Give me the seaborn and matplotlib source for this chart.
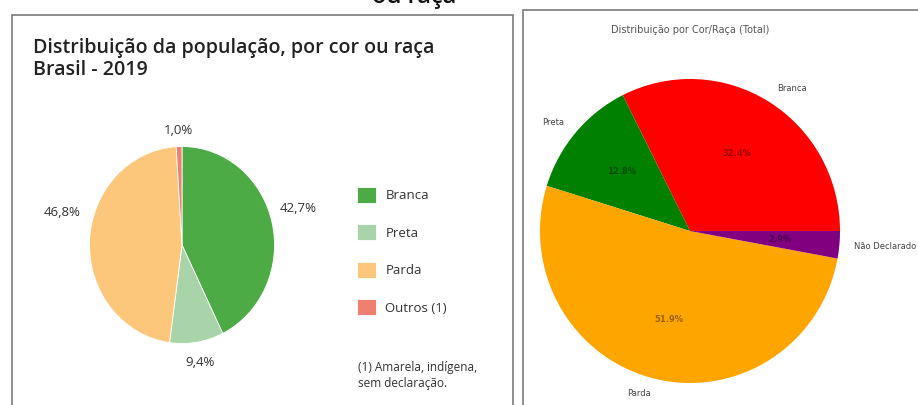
import matplotlib
matplotlib.use("Agg")
import seaborn as sns
from matplotlib import pyplot as plt
from matplotlib.patches import Rectangle

# left chart: IBGE 2019
cats_2019 = ["Branca", "Preta", "Parda", "Outros (1)"]
vals_2019 = [42.7, 9.4, 46.8, 1.0]
cols_2019 = ["#4dab46", "#a9d4a9", "#fcc77b", "#ef8070"]

# right chart: total by cor/raça
cats_total = ["Branca", "Preta", "Parda", "Não Declarado"]
vals_total = [32.4, 12.8, 51.9, 2.9]
cols_total = ["red", "green", "orange", "purple"]

sns.set_theme(style="white")
plt.rcParams["font.family"] = ["Open Sans", "DejaVu Sans"]

W, H = 918, 405
fig = plt.figure(figsize=(W / 100, H / 100), dpi=100)
fig.patch.set_facecolor("white")


def box(x0, y0, w, h):
    return [x0 / W, 1 - (y0 + h) / H, w / W, h / H]


def fx(x):
    return x / W


def fy(y):
    return 1 - y / H


# panel frames
fig.patches.append(Rectangle((fx(12), fy(420)), fx(501), 420 / H - 15 / H,
                             transform=fig.transFigure, fill=False,
                             edgecolor="#7a7a7a", lw=1.2))
fig.patches.append(Rectangle((fx(523), fy(420)), fx(410), 420 / H - 10 / H,
                             transform=fig.transFigure, fill=False,
                             edgecolor="#7a7a7a", lw=1.2))

# cut-off heading from page above
fig.text(fx(372), fy(3), "ou raça", fontsize=17, fontweight="semibold",
         color="#111111", va="baseline", ha="left")

# ---- left pie ----
ax1 = fig.add_axes(box(182 - 92.5, 245 - 98.5, 185, 197))
wedges, _ = ax1.pie(vals_2019, colors=cols_2019, startangle=90,
                    counterclock=False,
                    wedgeprops=dict(edgecolor="white", linewidth=0.6))
ax1.set_aspect("auto")
ax1.set_xlim(-1, 1)
ax1.set_ylim(-1, 1)
ax1.axis("off")

fig.text(fx(33), fy(38), "Distribuição da população, por cor ou raça\nBrasil - 2019",
         fontsize=14.1, fontweight="semibold", color="#222222",
         va="top", ha="left", linespacing=1.12)

pct_pos = [(298, 209), (200, 362), (62, 213), (178, 130)]
for v, (x, y) in zip(vals_2019, pct_pos):
    fig.text(fx(x), fy(y), f"{v:.1f}".replace(".", ",") + "%",
             fontsize=9.5, color="#333333", ha="center", va="center")

fig.legend(wedges, cats_2019, loc="upper left",
           bbox_to_anchor=(fx(357), fy(187)), frameon=False,
           fontsize=9.5, handlelength=1.45, handleheight=1.45,
           handletextpad=0.7, labelspacing=1.65, borderpad=0,
           borderaxespad=0, labelcolor="#333333")

fig.text(fx(358), fy(376), "(1) Amarela, indígena,\nsem declaração.",
         fontsize=8.5, color="#333333", ha="left", va="center",
         linespacing=1.3)

# ---- right pie ----
ax2 = fig.add_axes(box(690 - 150, 231 - 152, 300, 304))
_, texts, autotexts = ax2.pie(vals_total, labels=cats_total,
                              colors=cols_total, autopct="%1.1f%%",
                              wedgeprops=dict(linewidth=0),
                              textprops=dict(fontsize=6,
                                             family="DejaVu Sans"))
ax2.set_aspect("auto")
ax2.set_xlim(-1, 1)
ax2.set_ylim(-1, 1)
ax2.axis("off")
for t in texts:
    t.set_color("#444444")
for t in autotexts:
    t.set_color((0, 0, 0, 0.4))
    t.set_fontweight("bold")

fig.text(fx(690), fy(30), "Distribuição por Cor/Raça (Total)",
         fontsize=7, family="DejaVu Sans", color="#555555",
         ha="center", va="center")

fig.savefig("out.png", dpi=100, facecolor="white")
